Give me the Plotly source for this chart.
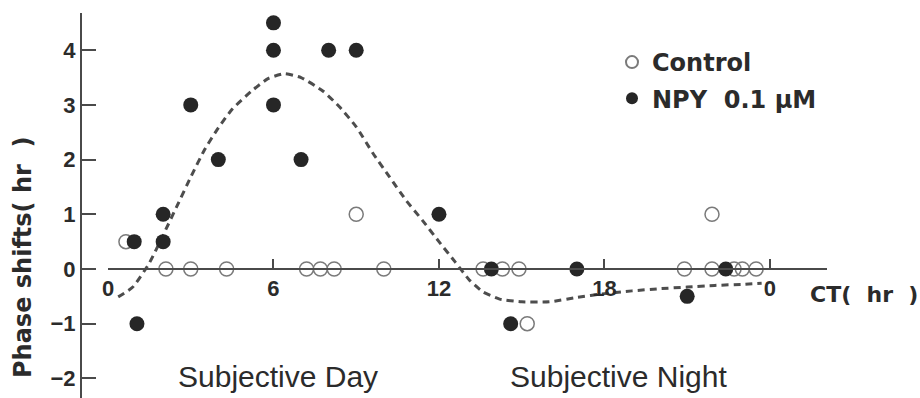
import plotly.graph_objects as go

# ---------------- data ----------------
control_ct = [0.65, 2.1, 3.0, 4.3, 7.2, 7.7, 8.2, 9.0, 10.0, 13.6, 14.3, 14.9, 15.2,
              20.9, 21.9, 21.9, 22.7, 23.0, 23.5]
control_shift = [0.5, 0, 0, 0, 0, 0, 0, 1, 0, 0, 0, 0, -1,
                 0, 1, 0, 0, 0, 0]

npy_ct = [0.95, 1.05, 2.0, 2.0, 3.0, 4.0, 6.0, 6.0, 6.0, 7.0, 8.0, 9.0, 12.0,
          13.9, 14.6, 17.0, 21.0, 22.4]
npy_shift = [0.5, -1, 1, 0.5, 3, 2, 4.5, 4, 3, 2, 4, 4, 1,
             0, -1, 0, -0.5, 0]

curve_ct = [0.37, 0.9, 1.5, 2.0, 2.5, 3.0, 3.5, 4.0, 4.5, 5.2, 5.8, 6.4, 7.0, 7.8,
            8.4, 9.0, 9.6, 10.2, 10.8, 11.4, 12.0, 12.6, 13.1, 13.6, 14.2, 15.0,
            16.0, 17.0, 18.0, 19.0, 20.0, 21.0, 22.0, 23.0, 23.7]
curve_shift = [-0.51, -0.33, 0.11, 0.62, 1.15, 1.68, 2.18, 2.58, 2.92, 3.25, 3.48, 3.57,
               3.5, 3.25, 2.96, 2.6, 2.12, 1.69, 1.26, 0.89, 0.5, 0.12, -0.2, -0.42,
               -0.55, -0.6, -0.6, -0.52, -0.45, -0.4, -0.36, -0.33, -0.3, -0.28, -0.26]

x_tickvals = [0, 6, 12, 18, 24]
x_ticktext = ["0", "6", "12", "18", "0"]
y_tickvals = [-2, -1, 0, 1, 2, 3, 4]
y_ticktext = ["\u22122", "\u22121", "0", "1", "2", "3", "4"]

# ---------------- layout geometry ----------------
W, H = 920, 398
MT, MB = 13, 0
PH = H - MT - MB


def px_x(px):
    return px / W


def px_y(py):
    return (H - MB - py) / PH


INK = "#2b2b2b"
AXIS = "#4a4a4a"
BOLD = "DejaVu Sans"
REG = "Liberation Sans"

fig = go.Figure()

fig.add_trace(go.Scatter(
    x=curve_ct, y=curve_shift, mode="lines",
    line=dict(color="#4d4d4d", width=3, dash="7px,5px", shape="spline", smoothing=0.5),
    showlegend=False, hoverinfo="skip"))

fig.add_trace(go.Scatter(
    x=control_ct, y=control_shift, mode="markers", name="Control",
    legendgroup="a",
    marker=dict(symbol="circle-open", size=14, color="#7a7a7a",
                line=dict(width=1.5, color="#7a7a7a")),
    cliponaxis=False))

fig.add_trace(go.Scatter(
    x=npy_ct, y=npy_shift, mode="markers", name="NPY\u00a0\u00a00.1 \u03bcM",
    legendgroup="b",
    marker=dict(symbol="circle", size=15, color="#262626", line=dict(width=0)),
    cliponaxis=False))

x0, x1 = 108, 827
hr_px = 27.58
y0px, unit = 269, 54.7

fig.update_layout(
    width=W, height=H,
    margin=dict(l=0, r=0, t=MT, b=MB, autoexpand=False),
    paper_bgcolor="white", plot_bgcolor="white",
    showlegend=True,
    legend=dict(x=px_x(612), y=px_y(40), xanchor="left", yanchor="top",
                font=dict(family=BOLD, size=24, color=INK, weight="bold"),
                traceorder="grouped", tracegroupgap=2,
                itemsizing="constant", bgcolor="rgba(0,0,0,0)"),
    xaxis=dict(domain=[px_x(x0), px_x(x1)], range=[0, (x1 - x0) / hr_px],
               anchor="free", position=px_y(y0px),
               showline=True, linecolor=AXIS, linewidth=2,
               ticks="inside", ticklen=9, tickwidth=2, tickcolor=AXIS,
               tickvals=x_tickvals, ticktext=x_ticktext,
               tickfont=dict(family=REG, size=22, color=INK, weight="bold"),
               showgrid=False, zeroline=False),
    yaxis=dict(domain=[0, 1],
               range=[-(H - MB - y0px) / unit, (y0px - MT) / unit],
               anchor="free", position=px_x(81),
               showline=True, linecolor=AXIS, linewidth=2,
               ticks="inside", ticklen=14, tickwidth=2, tickcolor=AXIS,
               tickvals=y_tickvals, ticktext=y_ticktext,
               tickfont=dict(family=REG, size=22, color=INK, weight="bold"),
               showgrid=False, zeroline=False),
    annotations=[
        dict(text="Subjective Day", x=px_x(278), y=px_y(376), xref="paper", yref="paper",
             showarrow=False, xanchor="center", yanchor="middle",
             font=dict(family=REG, size=30, color=INK)),
        dict(text="Subjective Night", x=px_x(618), y=px_y(376), xref="paper", yref="paper",
             showarrow=False, xanchor="center", yanchor="middle",
             font=dict(family=REG, size=30, color=INK)),
        dict(text="CT(\u00a0\u00a0hr\u00a0\u00a0)", x=px_x(808), y=px_y(294),
             xref="paper", yref="paper", showarrow=False,
             xanchor="left", yanchor="middle",
             font=dict(family=BOLD, size=22, color=INK, weight="bold")),
        dict(text="Phase shifts(\u00a0hr\u00a0\u00a0)", x=px_x(23), y=px_y(257),
             xref="paper", yref="paper", showarrow=False, textangle=-90,
             xanchor="center", yanchor="middle",
             font=dict(family=BOLD, size=24, color=INK, weight="bold")),
    ],
)

fig.write_html("out.html")
